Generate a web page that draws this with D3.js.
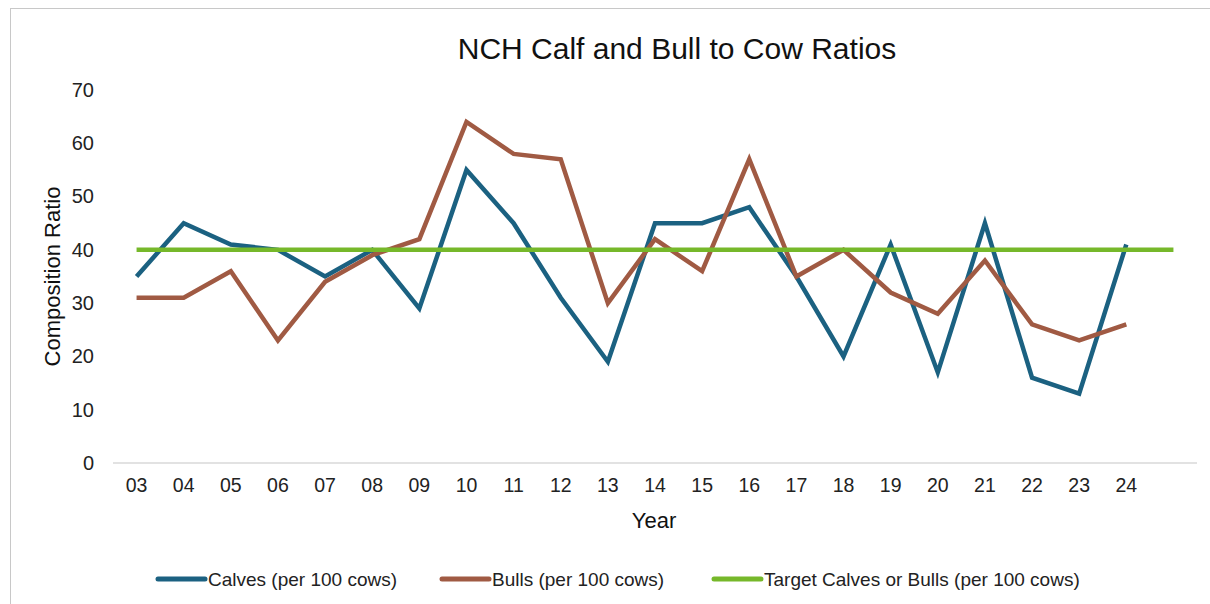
<!DOCTYPE html>
<html>
<head>
<meta charset="utf-8">
<script src="https://cdn.jsdelivr.net/npm/d3@7"></script>
<style>
  body { margin: 0; background: #fff; }
  svg { font-family: "Liberation Sans", Arial, sans-serif; }
</style>
</head>
<body>
<div id="chart"></div>
<script>
// years, last slot is blank (target line runs one step further)
var years = ["03","04","05","06","07","08","09","10","11","12","13","14","15","16","17","18","19","20","21","22","23","24",""];
var calves = [35,45,41,40,35,40,29,55,45,31,19,45,45,48,35,20,41,17,45,16,13,41];
var bulls  = [31,31,36,23,34,39,42,64,58,57,30,42,36,57,35,40,32,28,38,26,23,26];
var target = [40,40,40,40,40,40,40,40,40,40,40,40,40,40,40,40,40,40,40,40,40,40,40];
var yTicks = [0,10,20,30,40,50,60,70];

var series = [
  {name: "Calves (per 100 cows)", values: calves, color: "#1b6181"},
  {name: "Bulls (per 100 cows)", values: bulls, color: "#a05a43"},
  {name: "Target Calves or Bulls (per 100 cows)", values: target, color: "#76b82a"}
];

var W = 1210, H = 604;
var margin = {top: 90, right: 13, bottom: 141, left: 113};

var svg = d3.select("#chart").append("svg")
  .attr("width", W).attr("height", H);

// outer frame
svg.append("rect")
  .attr("x", 10.5).attr("y", 8.5)
  .attr("width", W - 10).attr("height", H)
  .attr("fill", "none").attr("stroke", "#c8c8c8");

var g = svg.append("g")
  .attr("transform", "translate(" + margin.left + "," + margin.top + ")");

var width = W - margin.left - margin.right,
    height = H - margin.top - margin.bottom;

var x = d3.scaleBand().domain(d3.range(years.length)).range([0, width]);
var y = d3.scaleLinear().domain([0, 70]).range([height, 0]);

// baseline
g.append("line")
  .attr("x1", 0).attr("x2", width)
  .attr("y1", y(0)).attr("y2", y(0))
  .attr("stroke", "#d9d9d9").attr("stroke-width", 1.5);

var yAxis = g.append("g")
  .call(d3.axisLeft(y).tickValues(yTicks).tickSize(0).tickPadding(19));
yAxis.select(".domain").remove();
yAxis.selectAll("text").attr("font-size", 20).attr("fill", "#222");

var xAxis = g.append("g")
  .attr("transform", "translate(0," + height + ")")
  .call(d3.axisBottom(x).tickFormat(function(i) { return years[i]; }).tickSize(0).tickPadding(15));
xAxis.select(".domain").remove();
xAxis.selectAll("text").attr("font-size", 19.5).attr("fill", "#222");

var line = d3.line()
  .x(function(d, i) { return x(i) + x.bandwidth() / 2; })
  .y(function(d) { return y(d); });

series.forEach(function(s) {
  g.append("path")
    .datum(s.values)
    .attr("d", line)
    .attr("fill", "none")
    .attr("stroke", s.color)
    .attr("stroke-width", 4.5)
    .attr("stroke-linejoin", "miter");
});

// titles
svg.append("text")
  .attr("x", 677).attr("y", 59)
  .attr("text-anchor", "middle")
  .attr("font-size", 30).attr("fill", "#111")
  .text("NCH Calf and Bull to Cow Ratios");

svg.append("text")
  .attr("transform", "translate(60," + (margin.top + y(35)) + ") rotate(-90)")
  .attr("text-anchor", "middle")
  .attr("font-size", 22).attr("fill", "#111")
  .text("Composition Ratio");

svg.append("text")
  .attr("x", 654).attr("y", 528)
  .attr("text-anchor", "middle")
  .attr("font-size", 22).attr("fill", "#111")
  .text("Year");

// legend
var legendX = [158, 442, 714];
var leg = svg.append("g");
series.forEach(function(s, i) {
  var lg = leg.append("g").attr("transform", "translate(" + legendX[i] + ",579)");
  lg.append("line")
    .attr("x1", 0).attr("x2", 47)
    .attr("stroke", s.color).attr("stroke-width", 5).attr("stroke-linecap", "round");
  lg.append("text")
    .attr("x", 50).attr("y", 7)
    .attr("font-size", 19).attr("fill", "#222")
    .text(s.name);
});
</script>
</body>
</html>
